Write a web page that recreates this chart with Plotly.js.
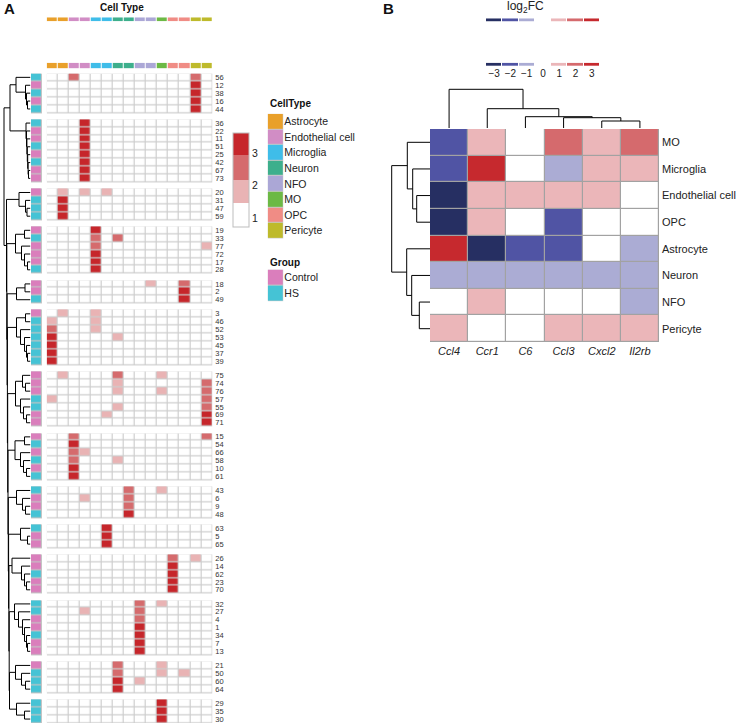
<!DOCTYPE html>
<html>
<head>
<meta charset="utf-8">
<script src="https://cdn.plot.ly/plotly-3.0.1.min.js"></script>
<style>body{margin:0;background:#fff}#chart{width:738px;height:724px}</style>
</head>
<body>
<div id="chart"></div>
<script>
// ---------- panel A data ----------
const cellTypes = ['Astrocyte', 'Endothelial cell', 'Microglia', 'Neuron', 'NFO', 'MO', 'OPC', 'Pericyte'];
const cellTypeColors = ['#E9A02A', '#D18DC5', '#3FBDE9', '#3DAF8C', '#ABA7D6', '#6CB945', '#F08C85', '#BEBA2B'];
const groups = ['Control', 'HS'];
const groupColors = ['#DA7EBC', '#45C3D5'];
// cell type of each heatmap column
const colTypes = [0, 0, 1, 1, 2, 2, 3, 3, 4, 4, 5, 6, 6, 7, 7];
// rows per cluster block, top to bottom
const blockSizes = [5, 8, 4, 6, 3, 7, 7, 6, 4, 3, 5, 7, 4, 3];
const rowLabels = [
  '56', '12', '38', '16', '44',
  '36', '22', '11', '51', '25', '42', '67', '73',
  '20', '31', '47', '59',
  '19', '33', '77', '72', '17', '28',
  '18', '2', '49',
  '3', '46', '52', '53', '45', '37', '39',
  '75', '74', '76', '57', '55', '69', '71',
  '15', '54', '66', '58', '10', '61',
  '43', '6', '9', '48',
  '63', '5', '65',
  '26', '14', '62', '23', '70',
  '32', '27', '4', '1', '34', '7', '13',
  '21', '50', '60', '64',
  '29', '35', '30'
];
// 0 = Control, 1 = HS
const rowGroups = [
  1, 0, 1, 0, 1,
  1, 0, 0, 1, 0, 1, 0, 0,
  0, 1, 1, 1,
  0, 1, 0, 0, 0, 1,
  0, 0, 1,
  0, 1, 1, 1, 1, 1, 1,
  0, 0, 0, 1, 1, 0, 0,
  0, 1, 0, 1, 0, 1,
  1, 0, 0, 1,
  1, 0, 0,
  0, 0, 1, 0, 0,
  1, 1, 0, 0, 1, 0, 0,
  0, 1, 1, 1,
  1, 1, 1
];
// one string per row, one digit per column: 0 white .. 3 dark red
const cellLevels = [
  '002000000000020', '000000000000030', '000000000000030', '000000000000030', '000000000000030',
  '000300000000000', '000300000000000', '000300000000000', '000300000000000',
  '000300000000000', '000300000000000', '000300000000000', '000300000000000',
  '010101000000000', '030000000000000', '030000000000000', '030000000000000',
  '000030000000000', '000020200000000', '000020000000001', '000030000000000', '000030000000000', '000030000000000',
  '000000000100200', '000000000000300', '000000000000300',
  '010010000000000', '100010000000000', '200010000000000', '300000100000000', '300000000000000', '300000000000000', '300000000000000',
  '010000200010000', '000000100000002', '000000100010002', '100000000000002', '000000100000002', '000001000000003', '000000000000003',
  '002000000000002', '003000000000000', '002100000000000', '002000100000000', '003000000000000', '003000000000000',
  '000000020010000', '000100020000000', '000000020000000', '000000030000000',
  '000003000000000', '000003000000000', '000003000000000',
  '000000000002010', '000000000003000', '000000000003000', '000000000003000', '000000000003000',
  '000000002010000', '000100002000000', '000000002000000', '000000003000000', '000000003000000', '000000003000000', '000000003000000',
  '000000200010000', '000000200010100', '000000301000000', '000000300000000',
  '000000000030000', '000000000030000', '000000000030000'
];
const levelValues = [1, 1.8, 2.5, 3.2];
const levelColors = ['#ffffff', '#e9b3b4', '#d56b6d', '#c6262b'];
const levelBreaks = [0.72, 1.46, 2.18, 2.94, 3.62];
const levelTicks = [1, 2, 3];

// row dendrogram: [height, left, right], leaves are row labels
const blockTrees = [
  [14.5, '56', [5, '12', [4, '38', [3, '16', '44']]]],
  [4.5, '36', [4, '22', [3.6, '11', [3.2, '51', [2.8, '25', [2.4, '42', [2, '67', '73']]]]]]],
  [11.5, '20', [5, '31', [3.5, '47', '59']]],
  [15, [6, '19', '33'], [9, '77', [6, '72', [3, '17', '28']]]],
  [14, [5.5, '18', '2'], '49'],
  [14, [5, '3', '46'], [10, '52', [6, '53', [4, '45', [3, '37', '39']]]]],
  [15, [8, '75', [5, '74', '76']], [10, '57', [7, '55', [4, '69', '71']]]],
  [15.5, [6, '15', '54'], [10, '66', [7, '58', [4, '10', '61']]]],
  [14, '43', [8, '6', [5, '9', '48']]],
  [10, '63', [3, '5', '65']],
  [18.5, '26', [9, '14', [6, '62', [4, '23', '70']]]],
  [16, '32', [12, '27', [8, '4', [6, '1', [4, '34', [3, '7', '13']]]]]],
  [15, '21', [9, '50', [5, '60', '64']]],
  [14, '29', [6, '35', '30']]
];
const spineHeights = [24.0, 23.7, 23.4, 23.1, 22.8, 22.5, 22.2, 21.9, 21.6, 21.3, 21.0];
const topPairHeight = 20.5;
const rootHeight = 26.5;

// ---------- panel B data ----------
const geneNames = ['Ccl4', 'Ccr1', 'C6', 'Ccl3', 'Cxcl2', 'Il2rb'];
const bCellTypes = ['MO', 'Microglia', 'Endothelial cell', 'OPC', 'Astrocyte', 'Neuron', 'NFO', 'Pericyte'];
const log2FC = [
  [-2,  1,  0,  2,  1,  2],
  [-2,  3,  0, -1,  1,  1],
  [-3,  1,  1,  1,  1,  0],
  [-3,  1,  0, -2,  0,  0],
  [ 3, -3, -2, -2,  0, -1],
  [-1, -1, -1, -1, -1, -1],
  [ 0,  1,  0,  0,  0, -1],
  [ 1,  0,  0,  1,  1,  1]
];
const fcTicks = [-3, -2, -1, 0, 1, 2, 3];
const fcColors = ['#262f62', '#5054a4', '#abacd4', '#ffffff', '#ebb6b9', '#d56a6d', '#c6292e'];
const geneTree = [38.7, 'Ccl4', [19.3, 'Ccr1', [11.3, 'C6', [10.3, 'Ccl3', [7, 'Cxcl2', 'Il2rb']]]]];
const cellTree = [38.3, [22.7, 'MO', [17.3, 'Microglia', [13.3, 'Endothelial cell', 'OPC']]],
                        [23.3, 'Astrocyte', [18.3, 'Neuron', [10.7, 'NFO', 'Pericyte']]]];

// ---------- helpers ----------
const W = 738, H = 724;
const px = x => x / W;
const py = y => 1 - y / H;
const dom = (a, b) => [px(a), px(b)];
const ydom = (top, bottom) => [py(bottom), py(top)];
const range = n => Array.from({length: n}, (_, i) => i);
const FONT = 'Liberation Sans, Arial, Helvetica, sans-serif';

const stepScale = colors => {
  const n = colors.length, s = [];
  colors.forEach((c, i) => s.push([i / n, c], [(i + 1) / n, c]));
  return s;
};
const flat = c => [[0, c], [1, c]];

// tree -> line segments (h along the tree depth, pos along the leaves)
function dendro(tree, leafPos) {
  const h = [], pos = [];
  (function walk(node) {
    if (!Array.isArray(node)) return {p: leafPos[node], h: 0};
    const a = walk(node[1]), b = walk(node[2]);
    h.push(a.h, node[0], node[0], b.h, null);
    pos.push(a.p, a.p, b.p, b.p, null);
    return {p: (a.p + b.p) / 2, h: node[0]};
  })(tree);
  return {h, pos};
}

// ---------- build panel A rows (gaps between blocks) ----------
const nCols = colTypes.length;
const gapUnits = 0.785;
const blank = n => Array(n).fill(null);
const yEdges = [0], zMain = [], zMainBg = [], zGroup = [], zGroupBg = [];
const tickvals = [], leafPos = {};
let pos = 0, r = 0;
blockSizes.forEach((n, b) => {
  if (b > 0) {
    pos += gapUnits; yEdges.push(pos);
    zMain.push(blank(nCols)); zMainBg.push(blank(nCols));
    zGroup.push([null]); zGroupBg.push([null]);
  }
  for (let i = 0; i < n; i++, r++) {
    zMain.push(cellLevels[r].split('').map(d => levelValues[+d]));
    zMainBg.push(Array(nCols).fill(1));
    zGroup.push([rowGroups[r]]); zGroupBg.push([1]);
    tickvals.push(pos + 0.5);
    leafPos[rowLabels[r]] = pos + 0.5;
    pos += 1; yEdges.push(pos);
  }
});
const yTotal = pos;

let spine = blockTrees[blockTrees.length - 1];
for (let b = blockTrees.length - 2; b >= 2; b--) spine = [spineHeights[b - 2], blockTrees[b], spine];
const rowTree = [rootHeight, [topPairHeight, blockTrees[0], blockTrees[1]], spine];
const rowSeg = dendro(rowTree, leafPos);

const lvScale = [];
levelColors.forEach((c, i) => {
  const span = levelBreaks[4] - levelBreaks[0];
  lvScale.push([(levelBreaks[i] - levelBreaks[0]) / span, c], [(levelBreaks[i + 1] - levelBreaks[0]) / span, c]);
});

const geneIdx = {}; geneNames.forEach((g, i) => geneIdx[g] = i);
const cellIdx = {}; bCellTypes.forEach((c, i) => cellIdx[c] = i);
const geneSeg = dendro(geneTree, geneIdx);
const cellSeg = dendro(cellTree, cellIdx);

const hm = (extra) => Object.assign({type: 'heatmap', showscale: false, hoverinfo: 'skip'}, extra);
const ctScale = stepScale(cellTypeColors);
const grpScale = stepScale(groupColors);
const fcScale = stepScale(fcColors);

const data = [
  // panel A
  {type: 'scatter', mode: 'lines', x: rowSeg.h, y: rowSeg.pos, xaxis: 'x2', yaxis: 'y',
   line: {color: '#000', width: 1}, hoverinfo: 'skip'},
  hm({x: range(nCols), y: yEdges, z: zMainBg, colorscale: flat('#cdcdcd'), xaxis: 'x', yaxis: 'y'}),
  hm({x: range(nCols), y: yEdges, z: zMain, colorscale: lvScale, zmin: levelBreaks[0], zmax: levelBreaks[4],
      xgap: 1.2, ygap: 1.2, xaxis: 'x', yaxis: 'y', showscale: true,
      colorbar: {x: px(233), xanchor: 'left', y: py(180), yanchor: 'middle', len: 94, lenmode: 'pixels',
                 thickness: 16, thicknessmode: 'pixels', xpad: 0, ypad: 0, outlinewidth: 1, outlinecolor: '#bdbdbd',
                 tickmode: 'array', tickvals: levelTicks, ticktext: levelTicks.map(String), ticks: '',
                 tickfont: {size: 10.5, color: '#222'}}}),
  hm({x: [0], y: yEdges, z: zGroupBg, colorscale: flat('#c4c4c4'), xaxis: 'x3', yaxis: 'y'}),
  hm({x: [0], y: yEdges, z: zGroup, colorscale: grpScale, zmin: -0.5, zmax: 1.5, xgap: 1.2, ygap: 1.2, xaxis: 'x3', yaxis: 'y'}),
  hm({x: range(nCols), y: [0], z: [colTypes], colorscale: ctScale, zmin: -0.5, zmax: 7.5, xgap: 1, xaxis: 'x', yaxis: 'y3'}),
  hm({x: range(nCols), y: [0], z: [colTypes], colorscale: ctScale, zmin: -0.5, zmax: 7.5, xgap: 1, xaxis: 'x', yaxis: 'y4'}),
  hm({x: [0], y: range(8), z: range(8).map(() => [1]), colorscale: flat('#c8c8c8'), xaxis: 'x4', yaxis: 'y5'}),
  hm({x: [0], y: range(8), z: range(8).map(i => [i]), colorscale: ctScale, zmin: -0.5, zmax: 7.5, xgap: 1, ygap: 1, xaxis: 'x4', yaxis: 'y5'}),
  hm({x: [0], y: range(2), z: [[1], [1]], colorscale: flat('#c8c8c8'), xaxis: 'x4', yaxis: 'y6'}),
  hm({x: [0], y: range(2), z: [[0], [1]], colorscale: grpScale, zmin: -0.5, zmax: 1.5, xgap: 1, ygap: 1, xaxis: 'x4', yaxis: 'y6'}),
  // panel B
  hm({x: range(6), y: range(8), z: log2FC.map(row => row.map(() => 1)), colorscale: flat('#a2a2a2'), xaxis: 'x5', yaxis: 'y7'}),
  hm({x: range(6), y: range(8), z: log2FC, colorscale: fcScale, zmin: -3.5, zmax: 3.5, xgap: 1.2, ygap: 1.2, xaxis: 'x5', yaxis: 'y7'}),
  {type: 'scatter', mode: 'lines', x: cellSeg.h, y: cellSeg.pos, xaxis: 'x6', yaxis: 'y7',
   line: {color: '#000', width: 1}, hoverinfo: 'skip'},
  {type: 'scatter', mode: 'lines', x: geneSeg.pos, y: geneSeg.h, xaxis: 'x5', yaxis: 'y8',
   line: {color: '#000', width: 1}, hoverinfo: 'skip'},
  hm({x: range(7), y: [0], z: [fcTicks], colorscale: fcScale, zmin: -3.5, zmax: 3.5, xgap: 1, xaxis: 'x7', yaxis: 'y9'}),
  hm({x: range(7), y: [0], z: [fcTicks], colorscale: fcScale, zmin: -3.5, zmax: 3.5, xgap: 1, xaxis: 'x7', yaxis: 'y10'})
];

const hidden = {visible: false, fixedrange: true, showgrid: false, zeroline: false};
const labelled = {showgrid: false, zeroline: false, showline: false, ticks: '', tickmode: 'array', fixedrange: true};
const fmtTick = v => (v < 0 ? '\u2212' + Math.abs(v) : String(v));

const layout = {
  width: W, height: H,
  margin: {l: 0, r: 0, t: 0, b: 0},
  paper_bgcolor: '#fff', plot_bgcolor: 'rgba(0,0,0,0)',
  showlegend: false,
  font: {family: FONT, color: '#222'},
  xaxis: Object.assign({}, hidden, {domain: dom(46.7, 212.3), range: [-0.5, nCols - 0.5], anchor: 'y'}),
  yaxis: Object.assign({}, labelled, {domain: ydom(73.4, 723), range: [yTotal, 0], anchor: 'x', side: 'right',
    tickvals: tickvals, ticktext: rowLabels, tickfont: {size: 7.5, color: '#333'}, ticklabelstandoff: 2}),
  xaxis2: Object.assign({}, hidden, {domain: dom(0, 30.5), range: [30.5, 0], anchor: 'y'}),
  xaxis3: Object.assign({}, hidden, {domain: dom(31, 42), range: [-0.5, 0.5], anchor: 'y'}),
  yaxis3: Object.assign({}, hidden, {domain: ydom(17.3, 21.3), range: [-0.5, 0.5], anchor: 'x'}),
  yaxis4: Object.assign({}, hidden, {domain: ydom(62.7, 68.3), range: [-0.5, 0.5], anchor: 'x'}),
  xaxis4: Object.assign({}, hidden, {domain: dom(267.7, 283.3), range: [-0.5, 0.5], anchor: 'y5'}),
  yaxis5: Object.assign({}, labelled, {domain: ydom(113.8, 238.6), range: [7.5, -0.5], anchor: 'x4', side: 'right',
    tickvals: range(8), ticktext: cellTypes, tickfont: {size: 10.5, color: '#222'}}),
  yaxis6: Object.assign({}, labelled, {domain: ydom(269.6, 301.2), range: [1.5, -0.5], anchor: 'x4', side: 'right',
    tickvals: range(2), ticktext: groups, tickfont: {size: 10.5, color: '#222'}}),
  xaxis5: Object.assign({}, labelled, {domain: dom(430, 659), range: [-0.5, 5.5], anchor: 'y7',
    tickvals: range(6), ticktext: geneNames, tickfont: {size: 11, style: 'italic', color: '#222'}, ticklabelstandoff: 1}),
  yaxis7: Object.assign({}, labelled, {domain: ydom(129, 342), range: [7.5, -0.5], anchor: 'x5', side: 'right',
    tickvals: range(8), ticktext: bCellTypes, tickfont: {size: 11, color: '#222'}, ticklabelstandoff: 2}),
  xaxis6: Object.assign({}, hidden, {domain: dom(388, 430), range: [42, 0], anchor: 'y7'}),
  yaxis8: Object.assign({}, hidden, {domain: ydom(80, 128), range: [0, 48], anchor: 'x5'}),
  xaxis7: Object.assign({}, labelled, {domain: dom(486, 600), range: [-0.5, 6.5], anchor: 'y10',
    tickvals: range(7), ticktext: fcTicks.map(fmtTick), tickfont: {size: 10, color: '#222'}}),
  yaxis9: Object.assign({}, hidden, {domain: ydom(18.3, 21.7), range: [-0.5, 0.5], anchor: 'x7'}),
  yaxis10: Object.assign({}, hidden, {domain: ydom(62.7, 65.9), range: [-0.5, 0.5], anchor: 'x7'}),
  annotations: [
    {text: '<b>A</b>', x: px(1.5), y: py(8.5), xanchor: 'left', yanchor: 'middle', font: {size: 15, color: '#111'}},
    {text: '<b>B</b>', x: px(380.5), y: py(8.5), xanchor: 'left', yanchor: 'middle', font: {size: 15, color: '#111'}},
    {text: '<b>Cell Type</b>', x: px(122.5), y: py(7), xanchor: 'center', yanchor: 'middle', font: {size: 10, color: '#111'}},
    {text: '<b>CellType</b>', x: px(267.5), y: py(104), xanchor: 'left', yanchor: 'middle', font: {size: 10, color: '#111'}},
    {text: '<b>Group</b>', x: px(267.5), y: py(262), xanchor: 'left', yanchor: 'middle', font: {size: 10, color: '#111'}},
    {text: 'log<sub>2</sub>FC', x: px(525), y: py(7), xanchor: 'center', yanchor: 'middle', font: {size: 12, color: '#222'}}
  ].map(a => Object.assign({xref: 'paper', yref: 'paper', showarrow: false}, a))
};

Plotly.newPlot('chart', data, layout, {staticPlot: true, responsive: false});
</script>
</body>
</html>
